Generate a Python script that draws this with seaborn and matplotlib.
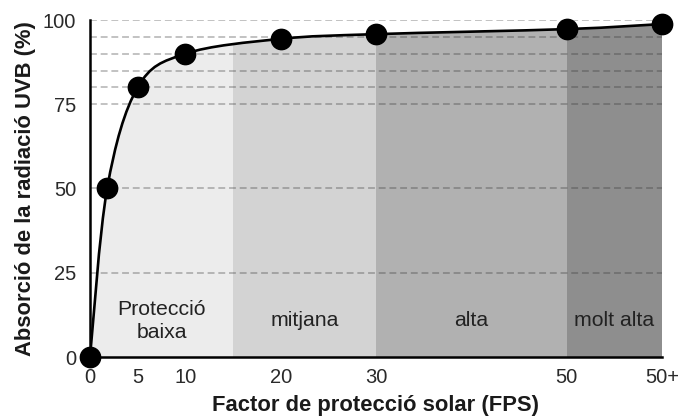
import numpy as np
import pandas as pd
import matplotlib
matplotlib.use("Agg")
import matplotlib.pyplot as plt
from matplotlib.path import Path
from matplotlib.patches import PathPatch
import seaborn as sns

# ---- data ----
fps_x = [0, 1.8, 5, 10, 20, 30, 50, 60]
absorcio = [0, 50, 80, 90, 94.4, 95.8, 97.3, 98.8]
x_ticks = [0, 5, 10, 20, 30, 50, 60]
x_ticklabels = ["0", "5", "10", "20", "30", "50", "50+"]
y_ticks = [0, 25, 50, 75, 100]
grid_y = [25, 50, 75, 80, 85, 90, 95, 100]
region_edges = [0, 15, 30, 50, 60]
region_labels = ["Protecció\nbaixa", "mitjana", "alta", "molt alta"]
region_colors = ["#ececec", "#d3d3d3", "#b1b1b1", "#8e8e8e"]

sns.set_theme(style="white")
plt.rcParams['font.family'] = ['Liberation Sans', 'DejaVu Sans']

fig = plt.figure(figsize=(6.82, 4.19), dpi=100)
ax = fig.add_axes([90/682, 1 - 357/419, (662-90)/682, (357-20)/419])
ax.set_xlim(0, 60)
ax.set_ylim(0, 100)

# smooth curve path (Catmull-Rom -> cubic Bezier) through the data points
pts = np.column_stack([fps_x, absorcio]).astype(float)
n = len(pts)
verts = [tuple(pts[0])]
codes = [Path.MOVETO]
for i in range(n - 1):
    p0 = pts[max(i - 1, 0)]
    p1 = pts[i]
    p2 = pts[i + 1]
    p3 = pts[min(i + 2, n - 1)]
    c1 = p1 + (p2 - p0) / 6.0
    c2 = p2 - (p3 - p1) / 6.0
    verts += [tuple(c1), tuple(c2), tuple(p2)]
    codes += [Path.CURVE4] * 3
curve_path = Path(verts, codes)

# area under the curve used as clip for region shading
area_verts = verts + [(pts[-1, 0], 0), (pts[0, 0], 0), verts[0]]
area_codes = codes + [Path.LINETO, Path.LINETO, Path.CLOSEPOLY]
area_patch = PathPatch(Path(area_verts, area_codes), facecolor="none",
                       edgecolor="none", transform=ax.transData)
ax.add_patch(area_patch)

for i in range(len(region_labels)):
    span = ax.axvspan(region_edges[i], region_edges[i + 1],
                      color=region_colors[i], lw=0, zorder=0)
    span.set_clip_path(area_patch)
    ax.text((region_edges[i] + region_edges[i + 1]) / 2, 10.7,
            region_labels[i], ha="center", va="center", fontsize=15.3,
            color="#222222", linespacing=1.3, zorder=3)

# dashed gridlines
for gy in grid_y:
    ax.axhline(gy, color="#333333", alpha=0.38, lw=1.1,
               ls=(0, (4.5, 2.5)), zorder=1)

# curve
ax.add_patch(PathPatch(curve_path, facecolor="none", edgecolor="black",
                       lw=1.9, zorder=4, transform=ax.transData))

# points
df = pd.DataFrame({"FPS": fps_x, "Absorcio": absorcio})
sns.scatterplot(data=df, x="FPS", y="Absorcio", ax=ax, s=210,
                color="black", edgecolor="black", zorder=5, clip_on=False,
                legend=False)

ax.set_xticks(x_ticks)
ax.set_xticklabels(x_ticklabels)
ax.set_yticks(y_ticks)
ax.tick_params(axis="both", labelsize=14.5, colors="#2a2a2a", length=0)
ax.tick_params(axis="y", pad=10)
ax.tick_params(axis="x", pad=8)

for s in ["top", "right"]:
    ax.spines[s].set_visible(False)
for s in ["left", "bottom"]:
    ax.spines[s].set_color("black")
    ax.spines[s].set_linewidth(1.8)
    ax.spines[s].set_zorder(4)

ax.set_xlabel("Factor de protecció solar (FPS)", fontsize=15.8,
              fontweight="bold", color="#1a1a1a", labelpad=6)
ax.set_ylabel("Absorció de la radiació UVB (%)", fontsize=15.8,
              fontweight="bold", color="#1a1a1a", labelpad=5)

fig.savefig("out.png", dpi=100)
